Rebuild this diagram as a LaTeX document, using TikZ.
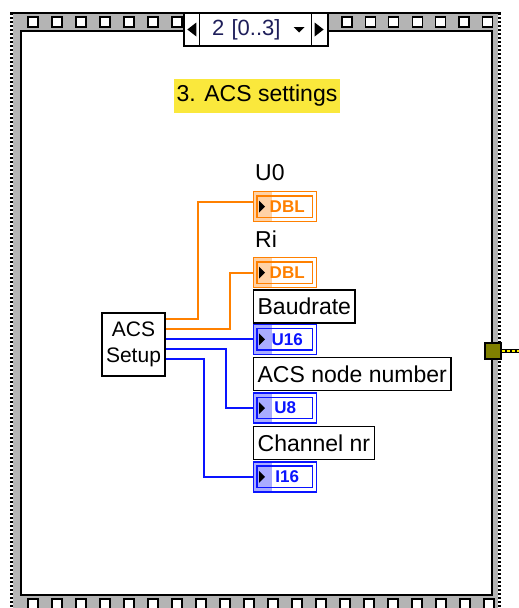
\documentclass[tikz,border=0pt]{standalone}
\usepackage{fontspec}
\setmainfont{Liberation Sans}
\usetikzlibrary{positioning}

\definecolor{dblorange}{RGB}{255,128,0}
\definecolor{intblue}{RGB}{10,20,255}
\definecolor{framegray}{RGB}{180,180,180}
\definecolor{notebg}{RGB}{250,232,60}
\definecolor{tunnelolive}{RGB}{128,128,0}
\definecolor{caseblue}{RGB}{30,30,90}

\begin{document}
\begin{tikzpicture}[x=1pt, y=-1pt,
  ind/.style={draw=#1, fill=white, line width=1.4pt, minimum width=63pt, minimum height=30pt, inner sep=0pt, text=#1, font=\fontsize{17}{17}\selectfont\bfseries},
  namebox/.style={draw, fill=white, line width=1.3pt, minimum height=33pt, inner xsep=4pt, inner ysep=0pt, font=\fontsize{23}{23}\selectfont},
  freelbl/.style={inner sep=2pt, font=\fontsize{23}{23}\selectfont, anchor=west},
  sprocket/.style={draw, fill=white, line width=1.3pt, minimum size=10pt, inner sep=0pt},
  selbox/.style={draw, fill=white, line width=1.3pt, minimum height=33pt, text width=88pt, inner xsep=28pt, inner ysep=0pt, align=left, text=caseblue, font=\fontsize{22}{22}\selectfont},
  wire/.style={draw=#1, line width=1.6pt}]

  \useasboundingbox (0,0) rectangle (519,608);

  % case structure frame
  \fill[framegray] (10,13) rectangle (501,608);
  \draw[line width=1.5pt] (10,13) -- (501,13);
  \draw[white, line width=3pt] (11.5,13) -- (11.5,608) (499.5,13) -- (499.5,608);
  \draw[line width=3pt, dash pattern=on 2pt off 2pt] (11.5,13) -- (11.5,608) (499.5,13) -- (499.5,608);
  \draw[fill=white, line width=1.5pt] (21,31) rectangle (492,595);

  \foreach \k in {0,...,6} {
    \node[sprocket] (tl\k) at (33+24*\k,22) {};
    \node[sprocket] (tr\k) at (347+23.4*\k,22) {};
  }
  \foreach \k in {0,...,19}
    \node[sprocket] (bt\k) at (33+24*\k,604) {};

  % case selector
  \node[selbox] (sel) at (256,29.5) {2 [0..3]};
  \draw[line width=1.3pt] ([xshift=16pt]sel.north west) -- ([xshift=16pt]sel.south west)
    ([xshift=-17pt]sel.north east) -- ([xshift=-17pt]sel.south east);
  \fill ([xshift=4pt]sel.west) -- ++(9pt,7pt) -- ++(0,-14pt) -- cycle;
  \fill ([xshift=-5pt]sel.east) -- ++(-9pt,7pt) -- ++(0,-14pt) -- cycle;
  \fill ([xshift=-24pt,yshift=2.5pt]sel.east) -- ++(-11pt,0) -- ++(5.5pt,-5.5pt) -- cycle;

  \node[fill=notebg, minimum width=166pt, minimum height=34pt, inner sep=0pt, font=\fontsize{23}{23}\selectfont] (title) at (257,96) {3. ACS settings};

  \node[draw, fill=white, line width=1.4pt, minimum size=63pt, align=center, inner sep=0pt, font=\fontsize{21}{26}\selectfont] (setup) at (133.5,344.5) {ACS\\Setup};

  % indicators
  \node[freelbl] (u0lbl) at (253,173) {U0};
  \node[ind=dblorange, anchor=north west] (u0) at (253,191) {\hspace*{4pt}DBL};
  \node[freelbl] (rilbl) at (253,239) {Ri};
  \node[ind=dblorange, anchor=north west] (ri) at (253,257) {\hspace*{4pt}DBL};
  \node[namebox, below=1pt of ri.south west, anchor=north west] (baud) {Baudrate};
  \node[ind=intblue, below=0pt of baud.south west, anchor=north west] (u16) {\hspace*{4pt}U16};
  \node[namebox, below=2pt of u16.south west, anchor=north west] (acsnode) {ACS node number};
  \node[ind=intblue, below=1pt of acsnode.south west, anchor=north west] (u8) {U8};
  \node[namebox, below=2pt of u8.south west, anchor=north west] (chan) {Channel nr};
  \node[ind=intblue, below=1pt of chan.south west, anchor=north west] (i16) {\hspace*{4pt}I16};

  \foreach \n/\c in {u0/dblorange, ri/dblorange, u16/intblue, u8/intblue, i16/intblue} {
    \fill[\c, opacity=0.35] (\n.north west) rectangle ([xshift=19pt]\n.south west);
    \draw[\c, line width=1.3pt] ([shift={(4pt,-5pt)}]\n.north west) rectangle ([shift={(-5pt,5pt)}]\n.south east);
    \fill ([shift={(6pt,6pt)}]\n.west) -- ++(6pt,-6pt) -- ++(-6pt,-6pt) -- cycle;
  }

  % wires
  \foreach \k/\dy in {1/25.5, 2/15.5, 3/5.5, 4/-4.5, 5/-14.5}
    \coordinate (s\k) at ([yshift=\dy pt]setup.east);
  \draw[wire=dblorange] (s1) -- ++(32,0) |- ([yshift=5pt]u0.west);
  \draw[wire=dblorange] (s2) -- ++(64,0) |- (ri.west);
  \draw[wire=intblue] (s3) -- (s3 -| u16.west);
  \draw[wire=intblue] (s4) -- ++(60,0) |- (u8.west);
  \draw[wire=intblue] (s5) -- ++(38,0) |- (i16.west);

  % output tunnel
  \node[draw, fill=tunnelolive, line width=1.3pt, minimum size=16pt, inner sep=0pt] (tunnel) at (493,351) {};
  \coordinate (exit) at (519,351);
  \draw[line width=4pt] (tunnel.east) -- (exit);
  \draw[yellow, line width=2pt, dash pattern=on 3pt off 2pt] (tunnel.east) -- (exit);
\end{tikzpicture}
\end{document}
